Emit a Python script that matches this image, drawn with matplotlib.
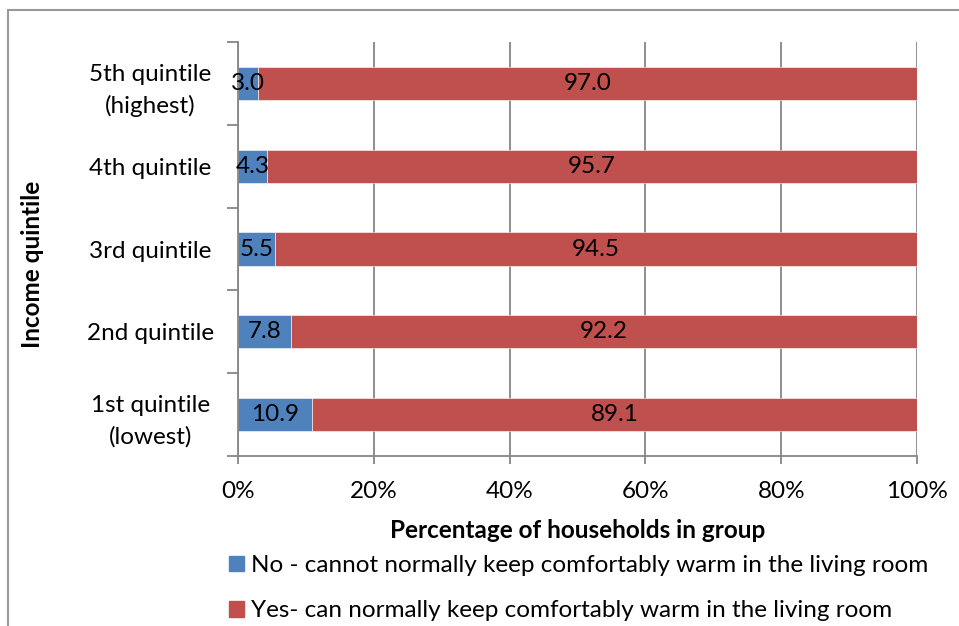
import numpy as np
import matplotlib
matplotlib.use('Agg')
import matplotlib.pyplot as plt
from matplotlib.patches import Rectangle, Patch

plt.rcParams['font.family'] = ['Lato', 'DejaVu Sans']

# Data (bottom to top)
categories = ['1st quintile\n(lowest)', '2nd quintile', '3rd quintile',
              '4th quintile', '5th quintile\n(highest)']
no_warm = [10.9, 7.8, 5.5, 4.3, 3.0]
yes_warm = [89.1, 92.2, 94.5, 95.7, 97.0]
xticks = [0, 20, 40, 60, 80, 100]
xticklabels = ['0%', '20%', '40%', '60%', '80%', '100%']

blue = '#4F81BD'
red = '#C0504D'
grey = '#868686'
fs = 17.5

W, H = 959, 626
fig = plt.figure(figsize=(W / 100, H / 100), dpi=100)
ax = fig.add_axes([238 / W, 1 - 456 / H, (917 - 238) / W, (456 - 42) / H])

y = np.arange(len(categories))
b1 = ax.barh(y, no_warm, height=0.4, color=blue, edgecolor='white', linewidth=0.4,
             label='No - cannot normally keep comfortably warm in the living room')
b2 = ax.barh(y, yes_warm, left=no_warm, height=0.4, color=red, edgecolor='white', linewidth=0.4,
             label='Yes- can normally keep comfortably warm in the living room')
ax.bar_label(b1, labels=['%.1f' % v for v in no_warm], label_type='center', fontsize=fs)
ax.bar_label(b2, labels=['%.1f' % v for v in yes_warm], label_type='center', fontsize=fs)

ax.set_xlim(0, 100)
ax.set_ylim(-0.5, len(categories) - 0.5)
ax.set_xticks(xticks)
ax.set_xticklabels(xticklabels, fontsize=fs)
ax.set_yticks(y)
ax.set_yticklabels(categories, fontsize=fs, ha='center', multialignment='center',
                   linespacing=1.55)
ax.tick_params(axis='y', length=0, pad=63)
ax.set_yticks(np.arange(-0.5, len(categories)), minor=True)
ax.tick_params(axis='y', which='minor', length=8, color=grey, width=1.3)
ax.tick_params(axis='x', length=6, color=grey, width=1.3, pad=12)
ax.grid(axis='x', color=grey, linewidth=1.3)
ax.set_axisbelow(True)
for s in ['top', 'right']:
    ax.spines[s].set_visible(False)
for s in ['left', 'bottom']:
    ax.spines[s].set_color(grey)
    ax.spines[s].set_linewidth(1.3)

ax.set_xlabel('Percentage of households in group', fontsize=fs, fontweight='bold', va='center')
ax.xaxis.set_label_coords(0.5, (456 - 531) / 414)
ax.set_ylabel('Income quintile', fontsize=fs, fontweight='bold', va='center')
ax.yaxis.set_label_coords((33 - 238) / 679, 0.5 - (264 - 249) / 414)

fig.legend(handles=[Patch(color=blue, label=b1.get_label()), Patch(color=red, label=b2.get_label())],
           loc='upper left', bbox_to_anchor=(217 / W, 1 - 543 / H), frameon=False,
           fontsize=fs, handlelength=0.6, handleheight=0.6, handletextpad=0.3,
           labelspacing=1.0, borderpad=0)

# chart frame (cropped at right and bottom)
fig.patches.append(Rectangle((8 / W, -0.1), 2, 1.1 - 10 / H, transform=fig.transFigure,
                             fill=False, edgecolor='#999999', linewidth=1.5))

fig.savefig('out.png', dpi=100)
